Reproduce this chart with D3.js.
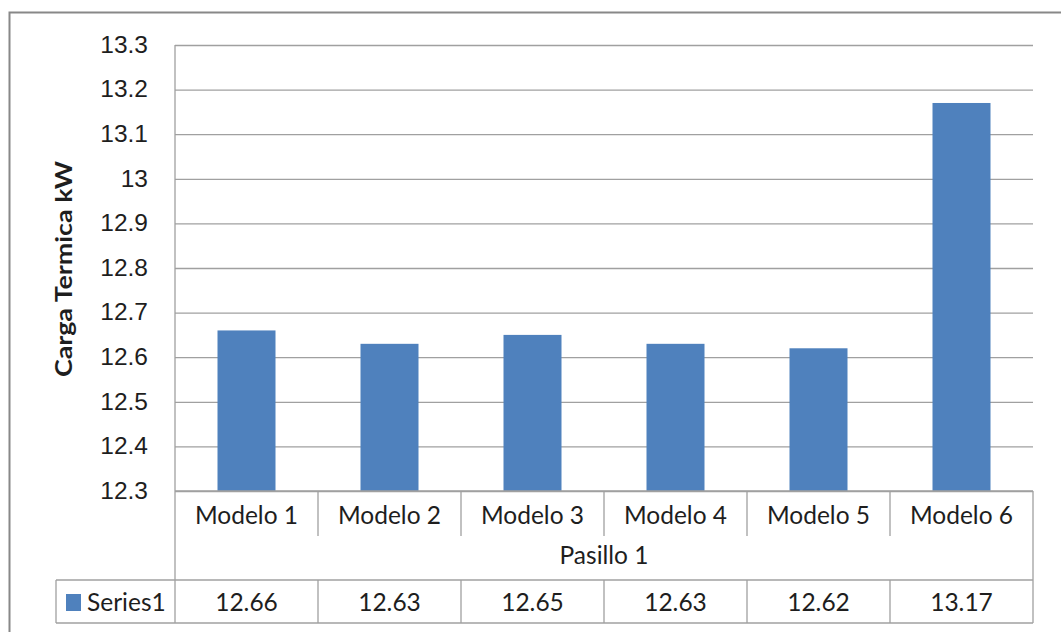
<!DOCTYPE html>
<html><head><meta charset="utf-8">
<script src="https://cdn.jsdelivr.net/npm/d3@7"></script>
<style>body{margin:0;background:#fff;}svg{display:block;font-family:Lato,"Open Sans",sans-serif;}</style>
</head><body>
<svg id="c" width="1061" height="632"></svg>
<script>
const categories = ["Modelo 1","Modelo 2","Modelo 3","Modelo 4","Modelo 5","Modelo 6"];
const values = [12.66,12.63,12.65,12.63,12.62,13.17];
const tickValues = [12.3,12.4,12.5,12.6,12.7,12.8,12.9,13,13.1,13.2,13.3];
const seriesName = "Series1";
const groupLabel = "Pasillo 1";
const yTitle = "Carga Termica kW";

const svg = d3.select("#c");
const L = 175, R = 1033, T = 45, B = 491;
const gridCol = "#a0a0a0", textCol = "#1e1e1e";
const fs = "24.5px";

svg.append("rect").attr("x",9.5).attr("y",12.5).attr("width",1100).attr("height",700)
  .attr("fill","none").attr("stroke","#888").attr("stroke-width",2);

const x = d3.scaleBand().domain(categories).range([L,R]).paddingInner(0).paddingOuter(0);
const y = d3.scaleLinear().domain([12.3,13.3]).range([B,T]);

// gridlines
const yAxis = d3.axisLeft(y).tickValues(tickValues).tickSize(-(R-L)).tickFormat(d=>d3.format("")(+d.toFixed(1)));
const ga = svg.append("g").attr("transform",`translate(${L},0)`).call(yAxis);
ga.select(".domain").remove();
ga.selectAll(".tick line").attr("stroke",gridCol).attr("stroke-width",1.3);
ga.selectAll(".tick text").attr("x",-27).attr("dy","0.3em").attr("fill",textCol).style("font-size",fs);

// bars
const bw = 58;
svg.selectAll("rect.bar").data(values).enter().append("rect").attr("class","bar")
  .attr("x",(d,i)=>x(categories[i])+x.bandwidth()/2-bw/2)
  .attr("y",d=>y(d)).attr("width",bw).attr("height",d=>B-y(d)).attr("fill","#4f81bd");

// table lines
const line=(x1,y1,x2,y2)=>svg.append("line").attr("x1",x1).attr("y1",y1).attr("x2",x2).attr("y2",y2).attr("stroke",gridCol).attr("stroke-width",1.3);
line(L,T,L,623);
line(R,B,R,623);
line(L,B,R,B);
line(56,580,R,580);
line(56,623,R,623);
line(56,580,56,623);
categories.forEach((c,i)=>{ if(i>0){ line(x(c),B,x(c),536); line(x(c),580,x(c),623);} });

// category labels
svg.selectAll("text.cat").data(categories).enter().append("text").attr("class","cat")
  .attr("x",d=>x(d)+x.bandwidth()/2).attr("y",524).attr("text-anchor","middle")
  .attr("fill",textCol).style("font-size",fs).text(d=>d);
svg.append("text").attr("x",(L+R)/2).attr("y",564).attr("text-anchor","middle")
  .attr("fill",textCol).style("font-size",fs).text(groupLabel);

// data row
svg.selectAll("text.val").data(values).enter().append("text").attr("class","val")
  .attr("x",(d,i)=>x(categories[i])+x.bandwidth()/2).attr("y",611).attr("text-anchor","middle")
  .attr("fill",textCol).style("font-size",fs).text(d=>d3.format(".2f")(d));
svg.append("rect").attr("x",66).attr("y",594).attr("width",15).attr("height",17).attr("fill","#4f81bd");
svg.append("text").attr("x",87).attr("y",611).attr("fill",textCol).style("font-size",fs).text(seriesName);

// axis title
svg.append("text").attr("transform","translate(72,269) rotate(-90)").attr("text-anchor","middle")
  .attr("fill",textCol).style("font-size","23px").style("font-weight","bold")
  .attr("textLength",216).attr("lengthAdjust","spacingAndGlyphs").text(yTitle);
</script>
</body></html>
